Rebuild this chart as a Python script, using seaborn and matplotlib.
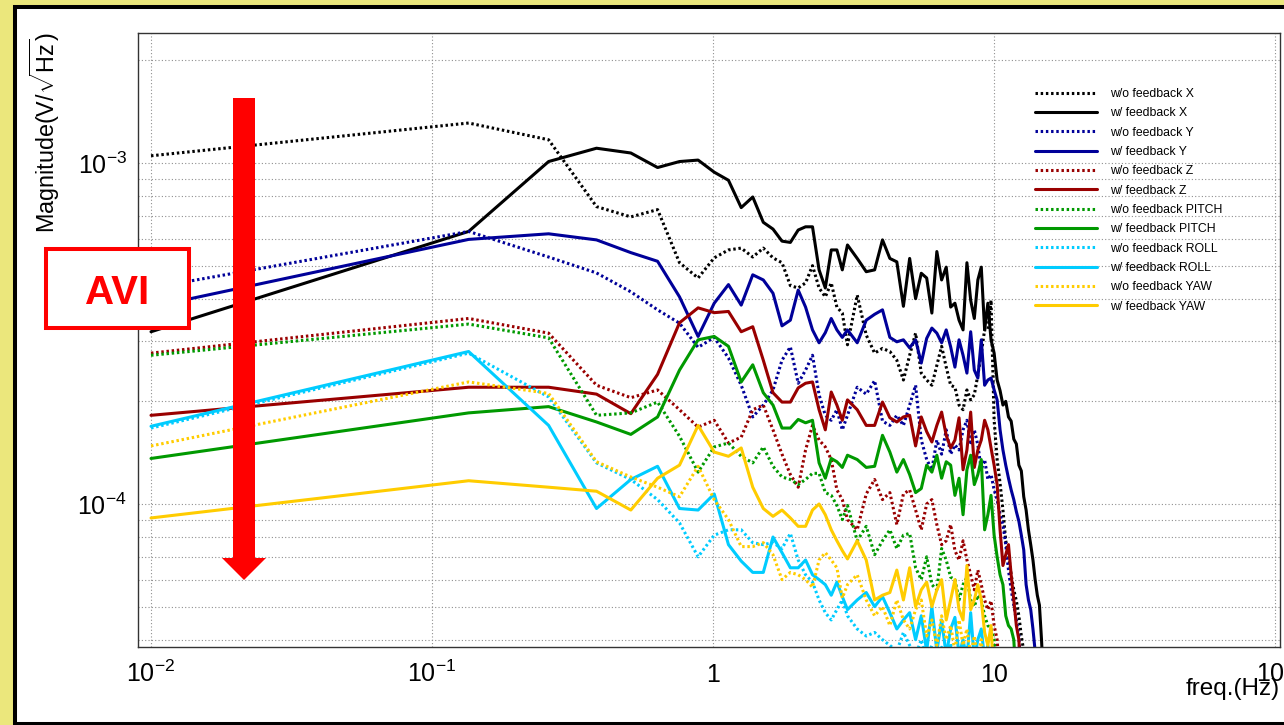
import numpy as np
import matplotlib
matplotlib.use("Agg")
import matplotlib.pyplot as plt
import seaborn as sns
from matplotlib.ticker import FixedLocator, FixedFormatter, LogLocator, NullFormatter
from matplotlib.patches import Rectangle, FancyArrow
from matplotlib.transforms import Affine2D

# ---------------------------------------------------------------- data
# Spectrum bins: f = 0.01 Hz + k * 0.125 Hz (every bin up to 3 Hz, every other bin above)
BIN_OFFSET = 0.01
BIN_WIDTH = 0.125
bin_index = np.r_[np.arange(0, 25), np.arange(26, 121, 2)]
freq = BIN_OFFSET + BIN_WIDTH * bin_index

UNIT = 1e-4  # magnitudes below are in units of 1e-4 V/sqrt(Hz)

wo_x = [10.5, 13.1, 11.7, 7.45, 6.95, 7.3, 5.1, 4.6, 5.27, 5.56, 5.63, 5.3, 5.63, 5.27, 5.1,
        4.37, 4.3, 4.45, 5.0, 4.3, 4.05, 4.45, 3.78, 3.63, 2.93,
        4.1, 3.13, 2.77, 2.86, 2.8, 2.64, 2.31, 2.73, 3.17, 2.42, 2.31, 2.23, 2.55, 2.9, 2.52,
        2.23, 2.2, 1.95, 1.89, 2.16, 2.02, 2.09, 2.39, 2.77, 3.24, 3.24, 3.96, 1.76, 1.35, 1.15,
        0.96, 0.78, 0.71, 0.62, 0.56, 0.52, 0.47, 0.41, 0.37, 0.3]
w_x = [3.2, 6.3, 10.1, 11.05, 10.7, 9.7, 10.1, 10.2, 9.4, 8.9, 7.4, 7.95, 6.7, 6.4, 5.9,
       5.85, 6.36, 6.5, 6.5, 4.86, 4.3, 5.56, 5.56, 4.86, 5.75,
       5.25, 4.8, 4.86, 5.95, 5.25, 5.13, 3.8, 5.25, 4.0, 4.75, 4.6, 3.63, 5.5, 4.54, 4.95,
       3.78, 3.88, 3.46, 3.24, 5.1, 3.96, 3.5, 4.54, 4.95, 3.24, 3.88, 3.03, 2.77, 2.31, 2.15,
       1.95, 2.0, 1.8, 1.75, 1.55, 1.5, 1.3, 1.25, 1.05, 0.96, 0.84, 0.76, 0.685, 0.6, 0.54,
       0.505, 0.40, 0.3]
wo_y = [4.3, 6.3, 5.3, 4.76, 4.19, 3.71, 3.39, 2.88, 3.08, 2.68, 2.23, 1.8, 1.95, 2.16, 2.64,
        2.89, 2.26, 2.47, 2.73, 2.09, 1.82, 1.76, 1.89, 1.65, 1.82,
        2.2, 2.1, 2.3, 1.75, 1.7, 1.82, 1.7, 1.95, 2.23, 1.54, 1.35, 1.26, 1.54, 1.4, 1.65,
        1.4, 1.49, 1.44, 1.65, 1.76, 1.49, 1.65, 1.49, 1.26, 1.35, 1.18, 1.22, 1.1, 1.03, 0.93,
        0.87, 0.76, 0.64, 0.56, 0.505, 0.457, 0.41, 0.3]
w_y = [3.78, 5.97, 6.2, 5.95, 5.46, 5.15, 4.05, 3.1, 3.88, 4.4, 3.83, 4.7, 4.54, 4.15, 3.33,
       3.46, 4.24, 3.78, 3.24, 2.97, 3.18, 3.5, 3.24, 3.08, 3.24,
       2.97, 3.46, 3.6, 3.71, 3.08, 2.99, 3.03, 2.87, 3.03, 2.59, 3.06, 3.28, 3.17, 2.97, 3.24,
       2.89, 2.52, 3.03, 2.73, 2.42, 3.2, 2.47, 2.34, 3.03, 2.23, 2.31, 2.34, 2.16, 2.02, 1.65,
       1.44, 1.3, 1.19, 1.1, 1.03, 0.95, 0.89, 0.81, 0.733, 0.58, 0.523, 0.49, 0.43, 0.37, 0.3]
wo_z = [2.77, 3.5, 3.17, 2.23, 2.05, 2.16, 1.89, 1.68, 1.76, 1.51, 1.57, 1.89, 1.95, 1.65, 1.4,
        1.22, 1.12, 1.44, 1.7, 1.54, 1.47, 1.35, 1.1, 1.03, 0.9,
        0.84, 1.07, 1.18, 1.03, 1.08, 0.87, 1.07, 1.1, 0.96, 0.84, 1.0, 1.03, 0.87, 0.76, 0.78,
        0.87, 0.73, 0.685, 0.78, 0.685, 0.62, 0.56, 0.64, 0.58, 0.523, 0.49, 0.52, 0.44, 0.4, 0.3]
w_z = [1.82, 2.2, 2.2, 2.1, 1.84, 2.4, 3.4, 3.76, 3.64, 3.67, 3.2, 3.31, 2.64, 2.12, 1.99,
       1.99, 2.19, 2.26, 2.28, 1.89, 1.65, 2.13, 1.95, 1.76, 2.02,
       1.89, 1.7, 1.7, 1.99, 1.79, 1.74, 1.8, 1.82, 1.48, 1.8, 1.63, 1.52, 1.7, 1.86, 1.59,
       1.46, 1.54, 1.79, 1.26, 1.44, 1.86, 1.28, 1.44, 1.54, 1.76, 1.65, 1.46, 1.3, 1.14, 0.84,
       0.66, 0.71, 0.76, 0.62, 0.523, 0.44, 0.4, 0.3]
wo_pitch = [2.73, 3.37, 3.07, 1.82, 1.85, 1.99, 1.58, 1.24, 1.47, 1.51, 1.38, 1.32, 1.47, 1.29, 1.2,
            1.18, 1.14, 1.18, 1.23, 1.23, 1.08, 1.06, 0.99, 0.9, 0.99,
            0.78, 0.86, 0.71, 0.78, 0.84, 0.74, 0.81, 0.82, 0.65, 0.6, 0.7, 0.58, 0.56, 0.74, 0.685,
            0.61, 0.6, 0.523, 0.58, 0.61, 0.523, 0.5, 0.54, 0.523, 0.47, 0.44, 0.43, 0.4, 0.3]
w_pitch = [1.36, 1.85, 1.93, 1.74, 1.6, 1.8, 2.47, 3.03, 3.1, 2.9, 2.28, 2.56, 2.12, 1.95, 1.67,
           1.67, 1.77, 1.73, 1.76, 1.32, 1.19, 1.36, 1.33, 1.28, 1.39,
           1.35, 1.28, 1.29, 1.59, 1.42, 1.24, 1.35, 1.22, 1.08, 1.11, 1.3, 1.24, 1.39, 1.19, 1.33,
           1.3, 1.06, 1.19, 0.93, 1.26, 1.39, 1.14, 1.22, 1.35, 0.84, 0.93, 1.06, 0.81, 0.7, 0.62,
           0.58, 0.47, 0.44, 0.43, 0.4, 0.3]
wo_roll = [1.67, 2.77, 2.06, 1.32, 1.18, 1.03, 0.88, 0.7, 0.81, 0.84, 0.84, 0.77, 0.76, 0.77, 0.74,
           0.82, 0.685, 0.62, 0.59, 0.523, 0.48, 0.457, 0.49, 0.523, 0.47,
           0.43, 0.41, 0.42, 0.4, 0.385, 0.37, 0.42, 0.385, 0.36, 0.4, 0.35, 0.385, 0.33, 0.38, 0.32,
           0.39, 0.3, 0.37, 0.3, 0.38, 0.3, 0.36, 0.3, 0.37, 0.3]
w_roll = [1.69, 2.8, 1.7, 0.97, 1.18, 1.29, 0.97, 0.96, 1.07, 0.76, 0.68, 0.63, 0.63, 0.8, 0.72,
          0.65, 0.65, 0.685, 0.62, 0.6, 0.58, 0.54, 0.59, 0.535, 0.49,
          0.523, 0.55, 0.5, 0.535, 0.48, 0.43, 0.457, 0.48, 0.4, 0.47, 0.37, 0.5, 0.37, 0.457, 0.36,
          0.43, 0.465, 0.36, 0.4, 0.35, 0.48, 0.35, 0.4, 0.43, 0.35, 0.385, 0.3]
wo_yaw = [1.48, 2.28, 2.11, 1.33, 1.2, 1.12, 1.05, 1.29, 1.03, 0.9, 0.75, 0.75, 0.77, 0.71, 0.6,
          0.63, 0.62, 0.6, 0.57, 0.685, 0.72, 0.685, 0.65, 0.53, 0.58,
          0.62, 0.523, 0.47, 0.5, 0.44, 0.523, 0.457, 0.43, 0.49, 0.523, 0.41, 0.457, 0.385, 0.47, 0.4,
          0.44, 0.37, 0.457, 0.385, 0.43, 0.36, 0.41, 0.35, 0.4, 0.3]
w_yaw = [0.91, 1.17, 1.12, 1.09, 0.96, 1.19, 1.3, 1.7, 1.42, 1.38, 1.46, 1.12, 0.97, 0.92, 0.96,
         0.91, 0.86, 0.86, 0.96, 1.0, 0.93, 0.84, 0.78, 0.73, 0.69,
         0.78, 0.685, 0.523, 0.54, 0.55, 0.64, 0.523, 0.65, 0.5, 0.56, 0.59, 0.5, 0.56, 0.6, 0.457,
         0.523, 0.6, 0.49, 0.457, 0.66, 0.49, 0.523, 0.58, 0.523, 0.42, 0.385, 0.44, 0.3]

labels = ["w/o feedback X", "w/ feedback X", "w/o feedback Y", "w/ feedback Y",
          "w/o feedback Z", "w/ feedback Z", "w/o feedback PITCH", "w/ feedback PITCH",
          "w/o feedback ROLL", "w/ feedback ROLL", "w/o feedback YAW", "w/ feedback YAW"]
series = [wo_x, w_x, wo_y, w_y, wo_z, w_z, wo_pitch, w_pitch, wo_roll, w_roll, wo_yaw, w_yaw]
axis_colors = ["#000000", "#000099", "#990000", "#009900", "#00ccff", "#ffcc00"]

x_ticks = [1e-2, 1e-1, 1, 10, 100]
x_tick_labels = [r"$10^{-2}$", r"$10^{-1}$", "1", "10", r"$10^{2}$"]
y_ticks = [1e-4, 1e-3]
y_tick_labels = [r"$10^{-4}$", r"$10^{-3}$"]

# ---------------------------------------------------------------- style
sns.set_theme(style="white")
plt.rcParams["font.family"] = ["Liberation Sans", "DejaVu Sans"]
plt.rcParams["mathtext.fontset"] = "custom"
plt.rcParams["mathtext.rm"] = "Liberation Sans"
plt.rcParams["mathtext.it"] = "Liberation Sans:italic"
plt.rcParams["mathtext.bf"] = "Liberation Sans:bold"
plt.rcParams["text.color"] = "black"

W, H = 1284, 725
fig = plt.figure(figsize=(W / 100, H / 100), dpi=100, facecolor="#ebe77c")
px = Affine2D().scale(1.0 / W, 1.0 / H) + fig.transFigure  # pixel units, origin bottom-left

# white canvas with a black frame
fig.patches.append(Rectangle((14.7, 1.0), 1300, 717, transform=px, facecolor="white",
                             edgecolor="black", linewidth=2.9, zorder=-10))

ax = fig.add_axes([138 / W, (H - 647) / H, (1280 - 138) / W, (647 - 33) / H])
ax.set_facecolor("white")
ax.set_xscale("log")
ax.set_yscale("log")

dotted = (0, (0.8, 0.9))
for i, (lab, vals) in enumerate(zip(labels, series)):
    n = len(vals)
    sns.lineplot(x=freq[:n], y=np.asarray(vals) * UNIT, ax=ax,
                 color=axis_colors[i // 2], linewidth=2.2,
                 linestyle=dotted if i % 2 == 0 else "-",
                 label=lab, estimator=None, sort=False, legend=False, zorder=2 + i * 0.01)

ax.set_xlim(10 ** -2.0463, 10 ** 2.0178)
ax.set_ylim(3.807e-5, 2.406e-3)

ax.xaxis.set_major_locator(FixedLocator(x_ticks))
ax.xaxis.set_major_formatter(FixedFormatter(x_tick_labels))
ax.xaxis.set_minor_locator(LogLocator(base=10, subs=np.arange(2, 10), numticks=50))
ax.xaxis.set_minor_formatter(NullFormatter())
ax.yaxis.set_major_locator(FixedLocator(y_ticks))
ax.yaxis.set_major_formatter(FixedFormatter(y_tick_labels))
ax.yaxis.set_minor_locator(LogLocator(base=10, subs=np.arange(2, 10), numticks=50))
ax.yaxis.set_minor_formatter(NullFormatter())

ax.tick_params(axis="both", which="both", direction="in", color="#222222", width=1.0,
               labelcolor="black", labelsize=18)
ax.tick_params(axis="x", which="major", length=13, pad=25)
ax.tick_params(axis="x", which="minor", length=6.5)
ax.tick_params(axis="y", which="major", length=24, pad=8)
ax.tick_params(axis="y", which="minor", length=12)
for t in ax.xaxis.get_major_ticks():
    t.label1.set_verticalalignment("baseline")

grid_kw = dict(color="#8f8f8f", linestyle=(0, (1, 2)), linewidth=0.8)
ax.grid(True, axis="x", which="major", **grid_kw)
ax.grid(True, axis="y", which="both", **grid_kw)
ax.set_axisbelow(True)

for sp in ax.spines.values():
    sp.set_color("#333333")
    sp.set_linewidth(1.0)

ax.set_xlabel("")
ax.set_ylabel("")
fig.text(45 / W, 1 - 32 / H, r"Magnitude(V/$\sqrt{\mathrm{Hz}}$)", rotation=90,
         ha="center", va="top", fontsize=16.8, color="black")
fig.text(1280 / W, 1 - 695 / H, "freq.(Hz)", ha="right", va="baseline",
         fontsize=17.5, color="black")

ax.legend(loc="upper left", bbox_to_anchor=(1035 / W, 1 - 88 / H),
          bbox_transform=fig.transFigure, frameon=False, fontsize=8.8,
          handlelength=5.1, handletextpad=1.05, labelspacing=0.6,
          borderpad=0, borderaxespad=0)

# annotation: downward arrow and AVI box
fig.patches.append(FancyArrow(244, H - 98, 0, -(580 - 98), width=22, head_width=44,
                              head_length=22, length_includes_head=True,
                              transform=px, facecolor="#ff0000", edgecolor="none", zorder=10))
fig.patches.append(Rectangle((46, H - 328), 143, 79, transform=px, facecolor="white",
                             edgecolor="#ff0000", linewidth=2.9, zorder=11))
fig.text(117.5 / W, (H - 304) / H, "AVI", ha="center", va="baseline", fontsize=29,
         fontweight="bold", color="#ff0000", zorder=12)

fig.savefig("out.png", dpi=100, facecolor=fig.get_facecolor())
